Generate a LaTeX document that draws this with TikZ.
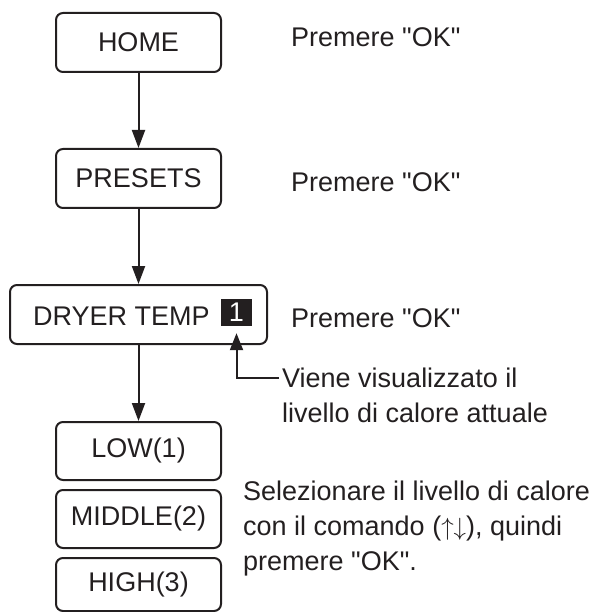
\documentclass[tikz,border=0pt]{standalone}
\usepackage{fontspec}
\setmainfont{Liberation Sans}[Ligatures=TeXOff]
\usetikzlibrary{arrows.meta}
\definecolor{ink}{RGB}{35,31,32}
\begin{document}
\begin{tikzpicture}[x=1pt,y=-1pt,
  font=\fontsize{27}{35}\selectfont, color=ink,
  box/.style={draw, line width=2pt, rounded corners=7pt, minimum width=165pt,
    minimum height=59pt, inner sep=0pt},
  flow/.style={line width=2pt, -{Triangle[width=13pt,length=18pt]}},
  pointer/.style={line width=2pt, -{Triangle[width=13pt,length=17pt]}},
  note/.style={anchor=base west, inner sep=0pt, align=left}]
\useasboundingbox (0,0) rectangle (590,612);
\node[box] (home) at (138.5,42.5) {HOME};
\node[box] (presets) at (138.5,178.5) {PRESETS};
\node[box, minimum width=257pt] (dryer) at (138.5,314.5) {};
\node[anchor=base west, inner sep=0pt] (dtxt) at (33,325) {DRYER TEMP};
\node[fill=ink, text=white, minimum width=31pt, minimum height=27pt, inner sep=0pt] (lvl) at (236.5,312.5) {1};
\node[box, minimum height=58pt] (low) at (138.5,451) {LOW(1)};
\node[box, minimum height=58pt] (mid) at (138.5,519) {MIDDLE(2)};
\node[box, minimum height=53pt] (high) at (138.5,584.5) {HIGH(3)};
\draw[flow] (home.south) -- (presets.north);
\draw[flow] (presets.south) -- (dryer.north);
\draw[flow] (dryer.south) -- (low.north);
\node[note] (ok1) at (291,47) {Premere "OK"};
\node[note] (ok2) at (291,192) {Premere "OK"};
\node[note] (ok3) at (291,327) {Premere "OK"};
\node[note] (viene) at (282,422) {Viene visualizzato il\\livello di calore attuale};
\coordinate (vk) at (279,378);
\draw[pointer] (vk) -| ([yshift=-7pt]lvl.south);
\node[note] (sel) at (243,570) {Selezionare il livello di calore\\con il comando ($\uparrow\downarrow$), quindi\\premere "OK".};
\end{tikzpicture}
\end{document}
